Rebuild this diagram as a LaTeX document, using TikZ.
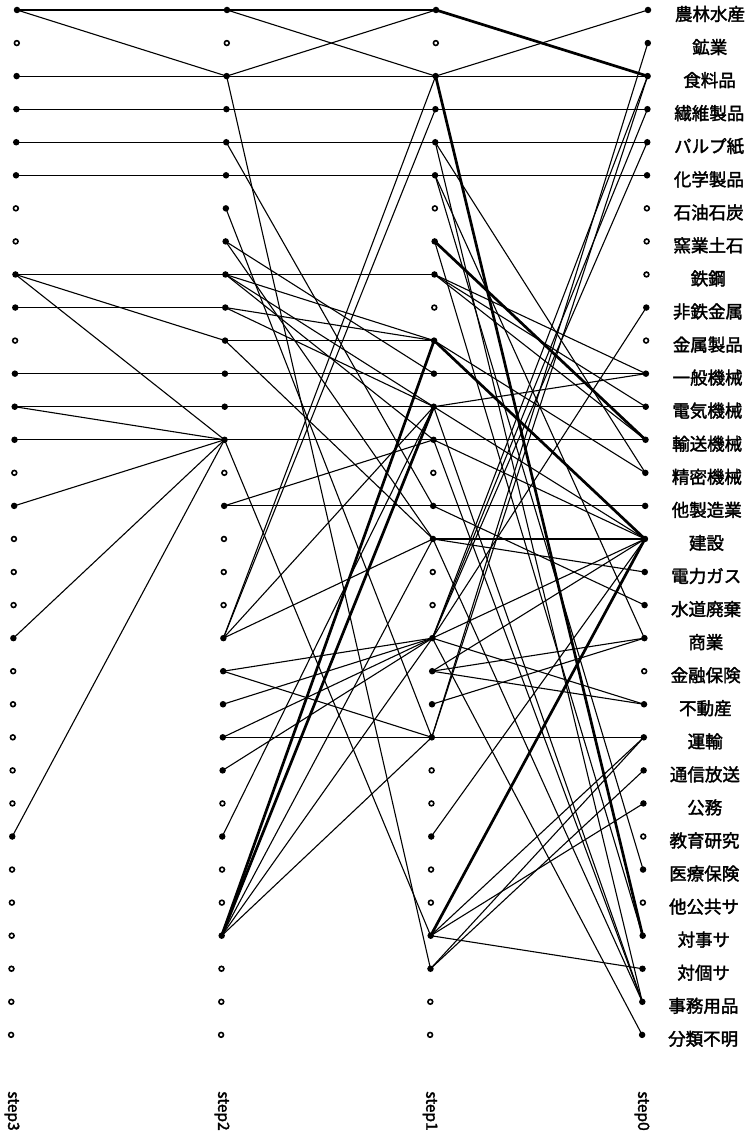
\documentclass[tikz,border=0pt]{standalone}
\usepackage{fontspec}
\newfontfamily\jpfont{Noto Sans CJK JP}[FakeBold=2]
\begin{document}
\begin{tikzpicture}[x=1pt, y=-1pt,
    fdot/.style={circle, fill=black, inner sep=0pt, minimum size=6.5pt},
    hdot/.style={circle, draw=black, line width=1.6pt, fill=white, inner sep=0pt, minimum size=4.8pt},
    wire/.style={line width=1.1pt},
    heavy/.style={line width=2.7pt},
    sector/.style={font=\jpfont\fontsize{17.5}{17.5}\selectfont, anchor=center},
    steplabel/.style={font=\jpfont\fontsize{15.5}{15.5}\selectfont, rotate=-90, anchor=center},
  ]
  \useasboundingbox (0,0) rectangle (753,1139);
  % dots: step3, step2, step1, step0 (columns lean a little to the left)
  \foreach \r in {0,2,3,4,5,8,9,11,12,13,15,19,25}
    \node[fdot] (s3-\r) at ({17-0.19*\r},{10+33.06*\r}) {};
  \foreach \r in {1,6,7,10,14,16,17,18,20,21,22,23,24,26,27,28,29,30,31}
    \node[hdot] (s3-\r) at ({17-0.19*\r},{10+33.06*\r}) {};
  \foreach \r in {0,2,3,4,5,6,7,8,9,10,11,12,13,15,19,20,21,22,23,25,28}
    \node[fdot] (s2-\r) at ({227-0.19*\r},{10+33.06*\r}) {};
  \foreach \r in {1,14,16,17,18,24,26,27,29,30,31}
    \node[hdot] (s2-\r) at ({227-0.19*\r},{10+33.06*\r}) {};
  \foreach \r in {0,2,3,4,5,7,8,10,11,12,13,15,16,19,20,21,22,25,28,29}
    \node[fdot] (s1-\r) at ({436-0.19*\r},{10+33.06*\r}) {};
  \foreach \r in {1,6,9,14,17,18,23,24,26,27,30,31}
    \node[hdot] (s1-\r) at ({436-0.19*\r},{10+33.06*\r}) {};
  \foreach \r in {0,1,2,3,4,5,9,11,12,13,14,15,16,17,18,19,21,22,23,24,26,28,29,30,31}
    \node[fdot] (s0-\r) at ({648-0.19*\r},{10+33.06*\r}) {};
  \foreach \r in {6,7,8,10,20,25,27}
    \node[hdot] (s0-\r) at ({648-0.19*\r},{10+33.06*\r}) {};

  % step3 -> step2
  \foreach \a/\b in {0/0,0/2,2/2,3/3,4/4,5/5,8/8,8/10,8/13,9/9,11/11,12/12,12/13,13/13,15/13,19/13,25/13}
    \draw[wire] (s3-\a.center) -- (s2-\b.center);
  % step2 -> step1
  \foreach \a/\b in {0/0,0/2,2/0,2/2,2/29,3/3,4/4,4/15,5/5,6/22,7/11,7/16,8/8,8/10,8/12,8/13,
      9/10,9/12,10/10,10/16,11/11,12/12,13/13,13/28,15/15,15/13,19/2,19/3,19/12,19/16,
      20/19,20/22,21/19,22/22,22/19,23/19,25/12,28/16,28/19,28/22}
    \draw[wire] (s2-\a.center) -- (s1-\b.center);
  \foreach \a/\b in {28/10,28/12}
    \draw[heavy] (s2-\a.center) -- (s1-\b.center);
  % step1 -> step0
  \foreach \a/\b in {2/0,2/2,3/3,4/4,4/14,4/30,5/5,5/26,5/19,7/28,8/11,8/12,8/13,10/14,
      11/11,12/11,12/12,12/16,12/30,13/13,13/16,13/30,15/15,15/18,16/16,16/17,16/30,
      19/2,19/3,19/4,19/9,19/16,19/21,19/31,20/16,20/19,20/21,21/19,22/1,22/2,22/22,
      25/16,28/22,28/24,28/29,29/22,29/23}
    \draw[wire] (s1-\a.center) -- (s0-\b.center);
  \foreach \a/\b in {0/2,2/28,7/13,10/16,28/16}
    \draw[heavy] (s1-\a.center) -- (s0-\b.center);

  % sector names
  \foreach \r/\t in {0/農林水産,1/鉱業,2/食料品,3/繊維製品,4/パルプ紙,5/化学製品,6/石油石炭,7/窯業土石,
      8/鉄鋼,9/非鉄金属,10/金属製品,11/一般機械,12/電気機械,13/輸送機械,14/精密機械,15/他製造業,
      16/建設,17/電力ガス,18/水道廃棄,19/商業,20/金融保険,21/不動産,22/運輸,23/通信放送,24/公務,
      25/教育研究,26/医療保険,27/他公共サ,28/対事サ,29/対個サ,30/事務用品,31/分類不明}
    \node[sector] (name-\r) at ({710-0.22*\r},{14+33.06*\r}) {\t};
  % step names
  \node[steplabel] (lab3) at (12,1111) {step3};
  \node[steplabel] (lab2) at (222,1111) {step2};
  \node[steplabel] (lab1) at (430,1111) {step1};
  \node[steplabel] (lab0) at (642,1111) {step0};
\end{tikzpicture}
\end{document}
